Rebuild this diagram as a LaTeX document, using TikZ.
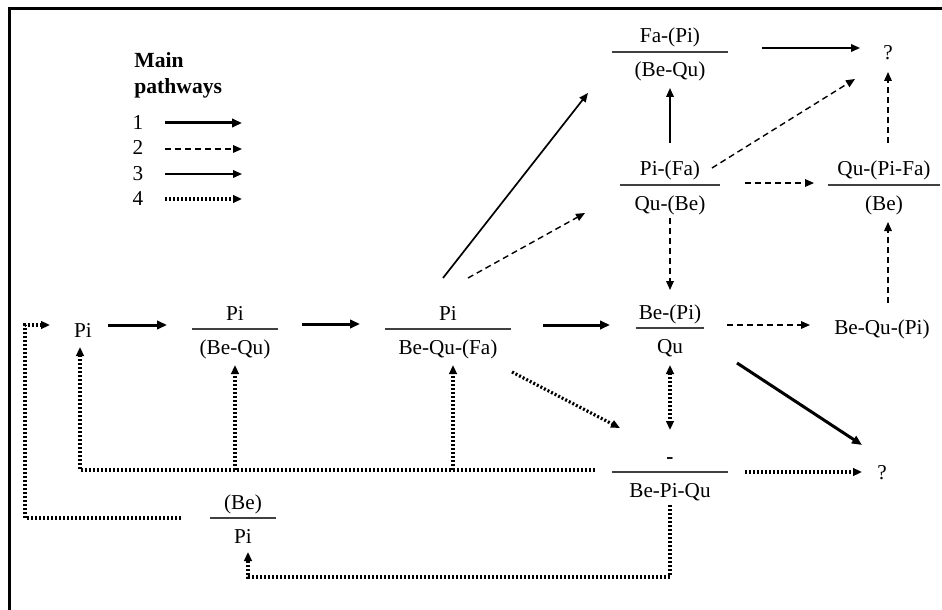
\documentclass[tikz,border=0pt]{standalone}
\usepackage{fontspec}
\setmainfont{Liberation Serif}
\usetikzlibrary{arrows.meta,calc}
\newcommand\fracnd[6]{%
  \coordinate (#1) at (#2,#3);
  \node[lab,anchor=base] (#1t) at ($(#1)+(0,-9)$) {#5};
  \node[lab,anchor=base] (#1b) at ($(#1)+(0,25)$) {#6};
  \draw[fracline] ($(#1)+(-#4,0)$) -- ($(#1)+(#4,0)$);
}
\begin{document}
\begin{tikzpicture}[x=0.5pt,y=-0.5pt,
  lab/.style={font=\fontsize{10.6}{12}\selectfont, inner sep=0pt},
  legb/.style={font=\fontsize{10.8}{12}\selectfont\bfseries, inner sep=0pt, anchor=base west},
  fracline/.style={line width=0.9pt, draw=black!75},
  tipA/.style={-{Triangle[length=5pt,width=4.2pt]}},
  tipB/.style={-{Triangle[length=4.5pt,width=3.8pt]}},
  pA/.style={tipA, line width=1.5pt},
  pB/.style={tipB, line width=0.7pt, dash pattern=on 3pt off 2pt},
  pC/.style={tipB, line width=0.85pt},
  pD/.style={tipB, line width=1.6pt, dash pattern=on 1pt off 1pt},
  pDD/.style={{Triangle[length=4.5pt,width=3.8pt]}-{Triangle[length=4.5pt,width=3.8pt]}, line width=1.6pt, dash pattern=on 1pt off 1pt},
]
\useasboundingbox (0,0) rectangle (942,610);
\draw[line width=1.5pt] (9,610) -- (9,9) -- (942,9);

% legend
\node[legb] (lmain) at (134,68) {Main};
\node[legb] (lpath) at (134,94) {pathways};
\node[lab,anchor=base] (L1) at (138,129) {1};
\node[lab,anchor=base] (L2) at (138,155) {2};
\node[lab,anchor=base] (L3) at (138,180) {3};
\node[lab,anchor=base] (L4) at (138,205) {4};
\draw[pA] ($(L1.base)+(27,-6)$) -- ($(L1.base)+(104,-6)$);
\draw[pB] ($(L2.base)+(27,-6)$) -- ($(L2.base)+(104,-6)$);
\draw[pC] ($(L3.base)+(27,-6)$) -- ($(L3.base)+(104,-6)$);
\draw[pD] ($(L4.base)+(27,-6)$) -- ($(L4.base)+(104,-6)$);

% nodes
\node[lab,anchor=base] (pi) at (83,337) {Pi};
\fracnd{n1}{235}{329}{43}{Pi}{(Be-Qu)}
\fracnd{n2}{448}{329}{63}{Pi}{Be-Qu-(Fa)}
\fracnd{n3}{670}{328}{34}{Be-(Pi)}{Qu}
\node[lab,anchor=base] (n4) at (882,334) {Be-Qu-(Pi)};
\fracnd{n5}{670}{52}{58}{Fa-(Pi)}{(Be-Qu)}
\fracnd{n6}{670}{185}{50}{Pi-(Fa)}{Qu-(Be)}
\fracnd{n8}{884}{185}{56}{Qu-(Pi-Fa)}{(Be)}
\fracnd{n7}{670}{472}{58}{\textbf{-}}{Be-Pi-Qu}
\fracnd{n9}{243}{518}{33}{(Be)}{Pi}
\node[lab,anchor=base] (qt) at (888,60) {?};
\node[lab,anchor=base] (qb) at (882,479) {?};

% pathway 1 (thick)
\draw[pA] ($(pi.base)+(25,-12)$) -- ($(n1)+(-68,-4)$);
\draw[pA] ($(n1)+(67,-5)$) -- ($(n2)+(-88,-5)$);
\draw[pA] ($(n2)+(95,-4)$) -- ($(n3)+(-60,-3)$);
\draw[pA] ($(n3)+(67,35)$) -- ($(qb.base)+(-20,-34)$);

% pathway 3 (thin solid)
\draw[pC] ($(n2)+(-5,-51)$) -- ($(n5)+(-82,41)$);
\draw[pC] ($(n6)+(0,-42)$) -- ($(n5)+(0,36)$);
\draw[pC] ($(n5)+(92,-4)$) -- ($(qt.base)+(-28,-12)$);

% pathway 2 (dashed)
\draw[pB] ($(n2)+(20,-51)$) -- ($(n6)+(-85,28)$);
\draw[pB] ($(n6)+(42,-17)$) -- ($(qt.base)+(-33,19)$);
\draw[pB] ($(n6)+(75,-2)$) -- ($(n8)+(-70,-2)$);
\draw[pB] ($(n8)+(4,-42)$) -- ($(qt.base)+(0,12)$);
\draw[pB] ($(n6)+(0,33)$) -- ($(n3)+(0,-38)$);
\draw[pB] ($(n3)+(57,-3)$) -- ($(n4.base)+(-72,-9)$);
\draw[pB] ($(n4.base)+(6,-31)$) -- ($(n8)+(4,37)$);

% pathway 4 (dotted)
\draw[pD] ($(n2)+(64,43)$) -- ($(n7)+(-50,-44)$);
\draw[pDD] ($(n3)+(0,37)$) -- ($(n7)+(0,-42)$);
\draw[pD] ($(n7)+(75,0)$) -- ($(qb.base)+(-20,-7)$);
\draw[pD] ($(n7)+(-75,-2)$) -| ($(pi.base)+(-3,10)$);
\draw[pD] ($(n1)+(0,141)$) -- ($(n1)+(0,36)$);
\draw[pD] ($(n2)+(5,141)$) -- ($(n2)+(5,36)$);
\draw[pD] ($(n9)+(-62,0)$) -- ($(n9)+(-218,0)$) |- ($(pi.base)+(-33,-12)$);
\draw[pD] ($(n7)+(0,33)$) |- ($(n9)+(5,59)$) -- ($(n9)+(5,34)$);
\end{tikzpicture}
\end{document}
